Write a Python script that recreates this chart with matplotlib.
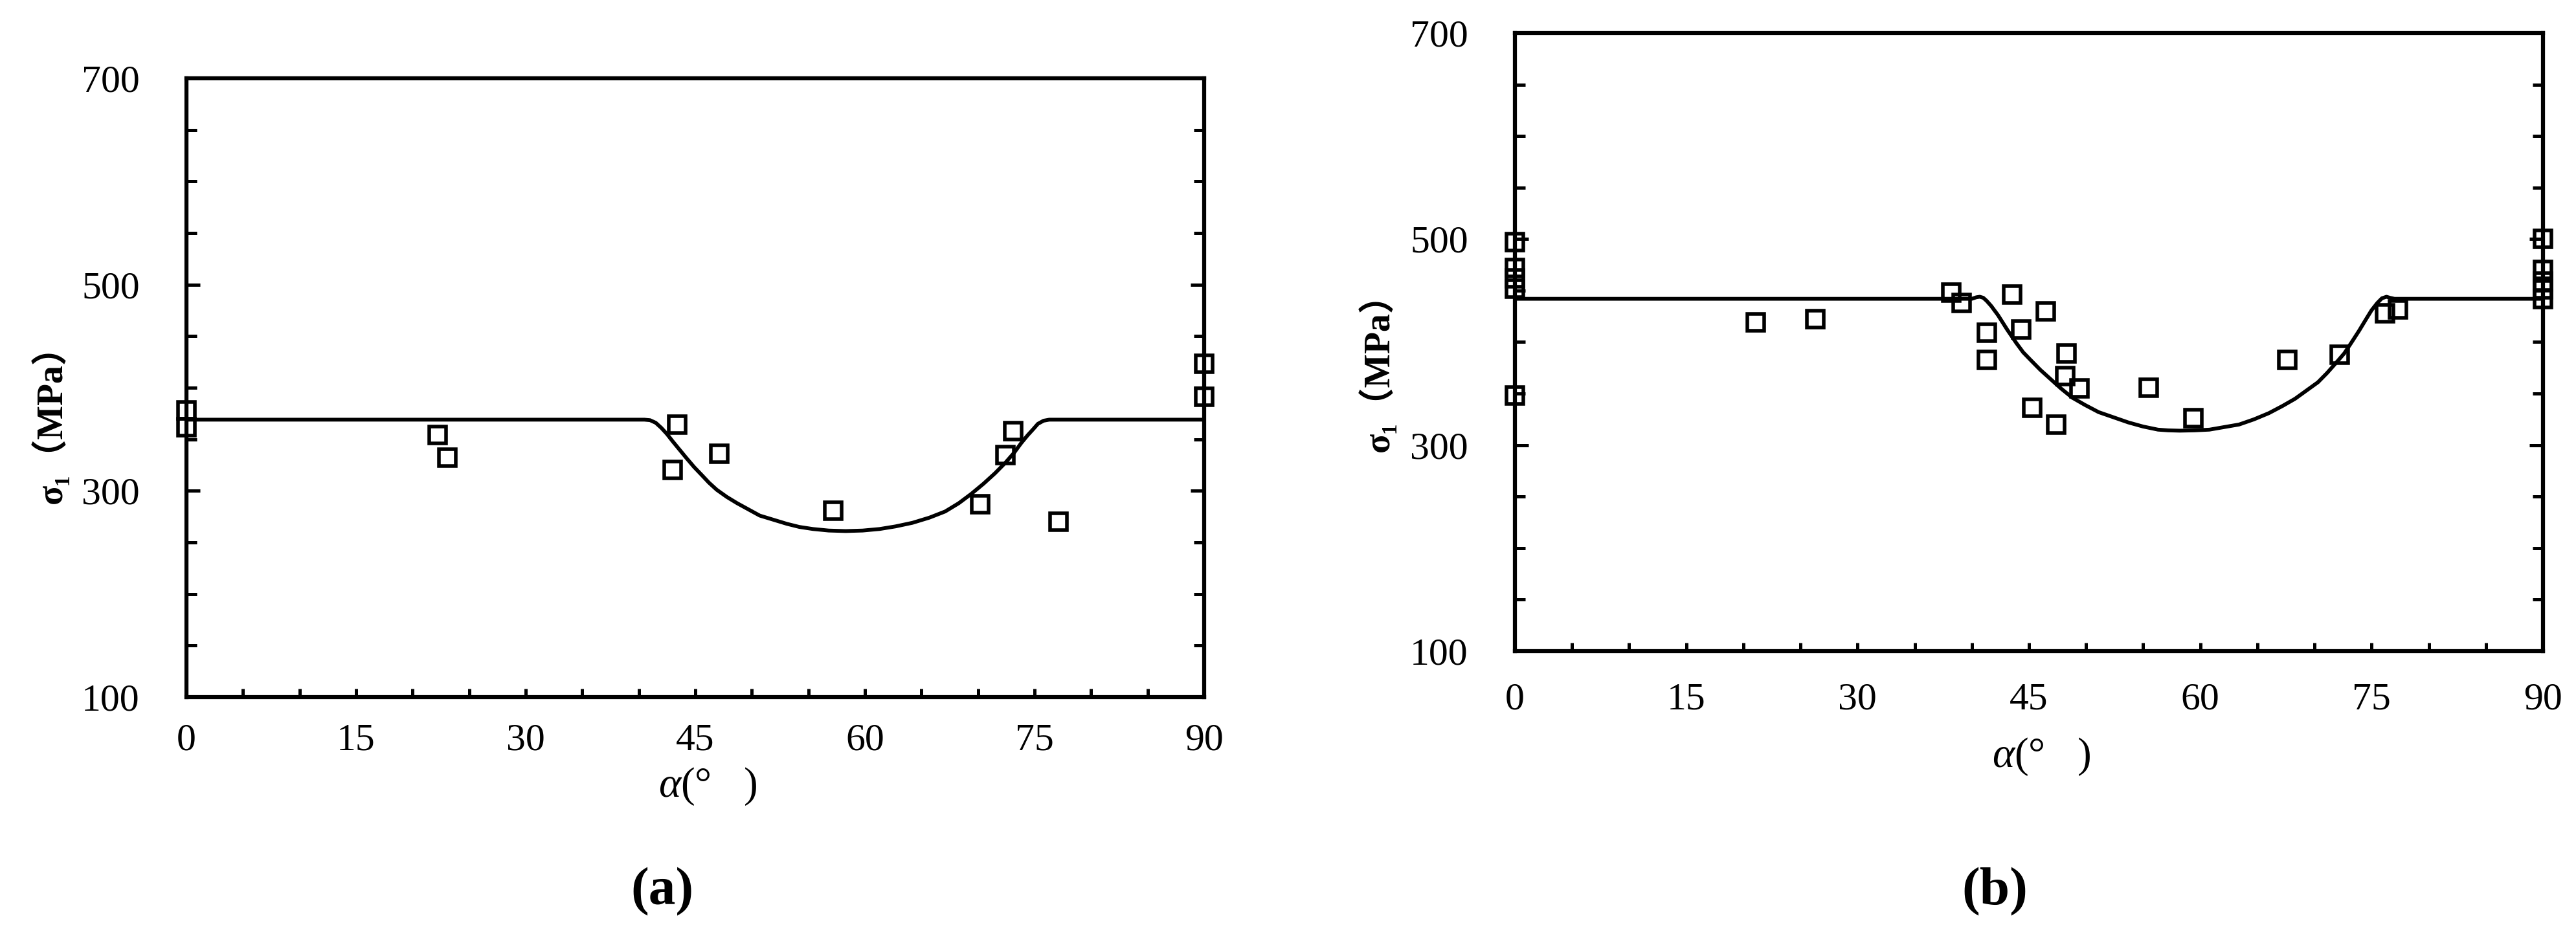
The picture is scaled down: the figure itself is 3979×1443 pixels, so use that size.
import matplotlib
matplotlib.use("Agg")
import matplotlib.pyplot as plt
from matplotlib.ticker import MultipleLocator

plt.rcParams['mathtext.fontset'] = 'custom'
plt.rcParams['mathtext.it'] = 'Liberation Serif:italic'
plt.rcParams['mathtext.rm'] = 'Liberation Serif'
plt.rcParams['font.family'] = ['Liberation Serif', 'DejaVu Serif', 'Noto Sans CJK SC']

# ---------------- data ----------------
# panel (a): test points
a_angle = [0, 0, 22.2, 23.1, 43.4, 43.0, 47.1, 57.2, 70.2, 72.4, 73.1, 77.1, 90, 90]
a_sigma = [378, 362, 354, 332, 364, 320, 336, 281, 287, 335, 358, 270, 423, 391]
# panel (a): theoretical curve
a_curve_angle = [0, 40.5, 41.0, 41.5, 42.0, 42.5, 43.0, 43.6, 44.2, 44.9, 45.6, 46.2,
                 46.9, 47.8, 48.7, 49.7, 50.7, 51.9, 53.1, 54.2, 55.4, 56.8, 58.3,
                 59.8, 61.3, 62.7, 64.2, 65.7, 67.1, 68.3, 69.4, 70.5, 71.5, 72.4,
                 73.2, 73.8, 74.4, 74.9, 75.3, 75.8, 76.3, 90]
a_curve_sigma = [369, 369, 368.5, 366, 361, 355, 348, 340, 332, 323, 315, 308,
                 301, 294, 288, 282, 276, 272, 268, 265, 263, 261.5, 261,
                 261.5, 263, 265.5, 269, 274, 280, 288, 297, 307, 317, 327,
                 337, 346, 354, 360, 365, 368, 369, 369]

# panel (b): test points
b_angle = [0, 0, 0, 0, 0, 21.1, 26.3, 38.2, 39.1, 41.3, 41.3, 43.5, 44.3, 46.5, 45.3,
           47.4, 48.3, 48.2, 49.4, 55.5, 59.4, 67.6, 72.2, 76.2, 77.3, 90, 90, 90, 90, 90]
b_sigma = [497, 472, 462, 452, 348, 419, 422, 448, 438, 409, 383, 446, 412, 430, 336,
           320, 389, 367, 355, 356, 326, 383, 388, 428, 432, 500, 470, 459, 451, 442]
# panel (b): theoretical curve
b_curve_angle = [0, 40.0, 40.4, 40.7, 41.0, 41.3, 41.7, 42.3, 43.1, 43.9, 44.5, 45.2,
                 46.0, 46.9, 47.8, 48.8, 49.9, 51.1, 52.4, 53.7, 55.0, 56.3, 57.2,
                 58.2, 59.5, 60.8, 62.1, 63.4, 64.7, 66.0, 67.2, 68.3, 69.3, 70.3,
                 71.1, 71.9, 72.6, 73.2, 73.9, 74.5, 75.0, 75.5, 75.9, 76.3, 76.6,
                 77.0, 90]
b_curve_sigma = [442, 442, 443.5, 444, 443, 440, 435, 426, 412, 399, 390, 382,
                 373, 364, 355, 346, 339, 332, 327, 322, 318, 315, 314.3,
                 314, 314.3, 315, 317.5, 320, 325, 331, 338, 345, 353, 361,
                 370, 380, 389, 399, 411, 422, 431, 438, 442.5, 444, 443,
                 442, 442]

x_major = [0, 15, 30, 45, 60, 75, 90]
y_major = [100, 300, 500, 700]

# ---------------- figure ----------------
fig = plt.figure(figsize=(39.8, 14.43), dpi=100)
axA = fig.add_axes([0.07236, 0.25364, 0.39497, 0.66251])
axB = fig.add_axes([0.58794, 0.30284, 0.39899, 0.66182])


def style(ax, xpad, xlab_y, ylab_y):
    ax.set_xlim(0, 90)
    ax.set_ylim(100, 700)
    for s in ax.spines.values():
        s.set_linewidth(4.5)
    ax.set_xticks(x_major)
    ax.set_yticks(y_major)
    ax.xaxis.set_minor_locator(MultipleLocator(5))
    ax.yaxis.set_minor_locator(MultipleLocator(50))
    ax.tick_params(axis='x', which='both', direction='in', bottom=True, top=False,
                   length=9.5, width=3.6, pad=xpad)
    ax.tick_params(axis='y', which='major', direction='in', left=True, right=True,
                   length=15, width=3.6, pad=52)
    ax.tick_params(axis='y', which='minor', direction='in', left=True, right=True,
                   length=11.5, width=3.6)
    for lab in ax.get_xticklabels() + ax.get_yticklabels():
        lab.set_fontfamily('Liberation Serif')
        lab.set_fontsize(43)
    ax.text(0.512, xlab_y, r"$\alpha$(°   )", transform=ax.transAxes,
            ha='center', va='center', fontsize=47, family='Liberation Serif')
    ax.text(-0.134, ylab_y, "σ₁（MPa）", transform=ax.transAxes, rotation=90,
            ha='center', va='center', fontsize=40, fontweight='bold',
            family=['Liberation Serif', 'DejaVu Serif', 'Noto Sans CJK SC'])


axA.plot(a_curve_angle, a_curve_sigma, color='black', lw=4.2, zorder=3)
axA.plot(a_angle, a_sigma, linestyle='none', marker='s', ms=18.5, mew=4.0,
         mfc='none', mec='black', clip_on=False, zorder=4)
style(axA, 29, -0.144, 0.455)

axB.plot(b_curve_angle, b_curve_sigma, color='black', lw=4.2, zorder=3)
axB.plot(b_angle, b_sigma, linestyle='none', marker='s', ms=18.5, mew=4.0,
         mfc='none', mec='black', clip_on=False, zorder=4)
style(axB, 35, -0.171, 0.465)

fig.text(1023 / 3980, 1 - 1378 / 1443, "(a)", ha='center', va='center',
         fontsize=60, fontweight='bold', family='Liberation Serif')
fig.text(3081 / 3980, 1 - 1378 / 1443, "(b)", ha='center', va='center',
         fontsize=60, fontweight='bold', family='Liberation Serif')

fig.savefig("out.png", dpi=100)
